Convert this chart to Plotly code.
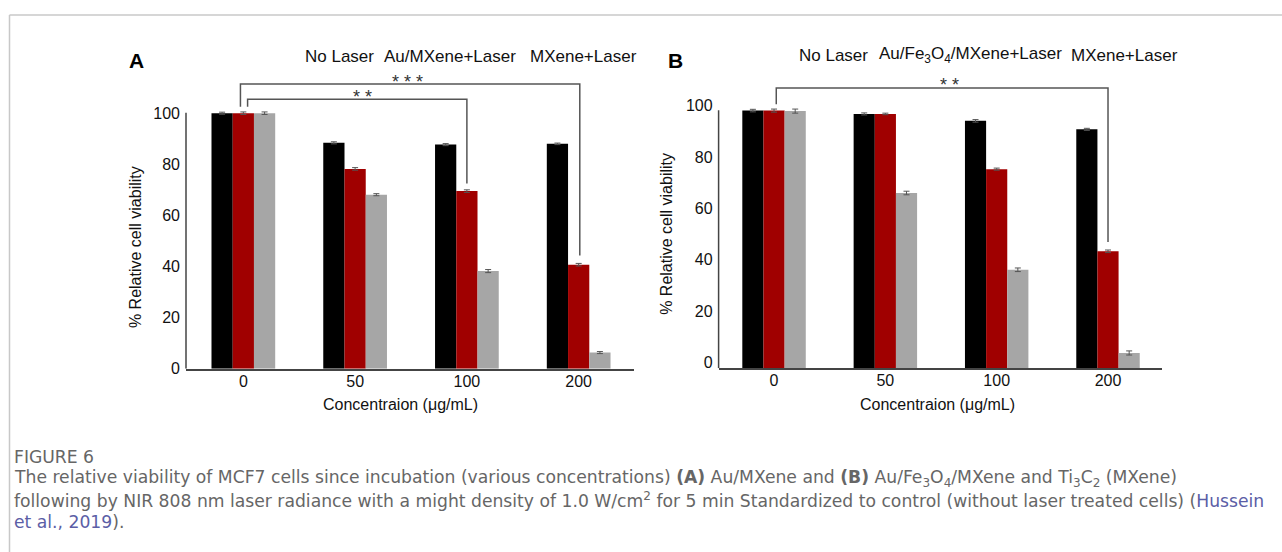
import plotly.graph_objects as go

W, H = 1282, 552          # reference picture size (positions below are given in its pixels)
FIG_H = 562               # drawn height: the photograph is squeezed from this to 552

# ---------------- data ----------------
concentrations = ["0", "50", "100", "200"]
series_names = ["No Laser", "Au/MXene+Laser", "MXene+Laser"]
series_names_b = ["No Laser", "Au/Fe<sub>3</sub>O<sub>4</sub>/MXene+Laser", "MXene+Laser"]

a_no_laser = [100.0, 88.4, 87.7, 88.0]
a_au_mxene = [100.0, 78.2, 69.5, 40.7]
a_mxene = [100.0, 68.1, 38.2, 6.3]
a_err_no_laser = [0.4, 0.4, 0.4, 0.3]
a_err_au_mxene = [0.5, 0.5, 0.5, 0.5]
a_err_mxene = [0.5, 0.4, 0.6, 0.4]

b_no_laser = [100.4, 99.1, 96.4, 93.1]
b_au_fe_mxene = [100.4, 99.1, 77.6, 45.6]
b_mxene = [100.2, 68.3, 38.4, 6.0]
b_err_no_laser = [0.5, 0.4, 0.5, 0.4]
b_err_au_fe_mxene = [0.6, 0.3, 0.4, 0.5]
b_err_mxene = [0.8, 0.7, 0.7, 0.8]

y_ticks = [0, 20, 40, 60, 80, 100]
colors = ["#000000", "#a00000", "#a6a6a6"]

def px(x):
    return x / W

def py(y):
    return 1 - y / H

fig = go.Figure()

for vals, errs, col, name in zip([a_no_laser, a_au_mxene, a_mxene],
                                 [a_err_no_laser, a_err_au_mxene, a_err_mxene],
                                 colors, series_names):
    fig.add_trace(go.Bar(x=concentrations, y=vals, name=name, marker=dict(color=col, line=dict(width=0)),
                         error_y=dict(type="data", array=errs, color="#555555", thickness=1, width=3),
                         xaxis="x", yaxis="y", showlegend=False))

for vals, errs, col, name in zip([b_no_laser, b_au_fe_mxene, b_mxene],
                                 [b_err_no_laser, b_err_au_fe_mxene, b_err_mxene],
                                 colors, series_names_b):
    fig.add_trace(go.Bar(x=concentrations, y=vals, name=name, marker=dict(color=col, line=dict(width=0)),
                         error_y=dict(type="data", array=errs, color="#555555", thickness=1, width=3),
                         xaxis="x2", yaxis="y2", showlegend=False))

axis_font = dict(family="Liberation Sans, Arial, sans-serif", size=16, color="#111111")

xcommon = dict(type="category", showgrid=False, zeroline=False, showline=True,
               linecolor="#444444", linewidth=1.5, ticks="", ticklen=0, ticklabelstandoff=-3,
               tickfont=axis_font, fixedrange=True)
ycommon = dict(range=[0, 118], showgrid=False, zeroline=False, showline=False,
               tickvals=y_ticks, ticks="", ticklen=0, ticklabelstandoff=5, tickfont=axis_font)

fig.update_layout(
    width=W, height=FIG_H,
    margin=dict(l=0, r=0, t=0, b=0),
    paper_bgcolor="white", plot_bgcolor="white",
    barmode="group", bargap=0.43, bargroupgap=0,
    xaxis=dict(**xcommon, domain=[px(186), px(634)], range=[-0.513, 3.495], anchor="y"),
    yaxis=dict(**ycommon, domain=[py(368), py(67.1)], anchor="x"),
    xaxis2=dict(**xcommon, domain=[px(718.6), px(1162)], range=[-0.498, 3.485], anchor="y2"),
    yaxis2=dict(**ycommon, domain=[py(367.7), py(65.3)], anchor="x2", ticklabelshift=-6),
)

line_col = "#444444"
shapes = [
    dict(type="line", xref="x domain", yref="y", x0=0, x1=0, y0=0, y1=100.2, line=dict(color=line_col, width=1.5)),
    dict(type="line", xref="x2 domain", yref="y2", x0=0, x1=0, y0=0, y1=100.5, line=dict(color=line_col, width=1.5)),
    dict(type="line", xref="paper", yref="paper", x0=px(9.5), x1=1, y0=py(15), y1=py(15), line=dict(color="#c8c8c8", width=1.5)),
    dict(type="line", xref="paper", yref="paper", x0=px(9.5), x1=px(9.5), y0=py(15), y1=0, line=dict(color="#c8c8c8", width=1.5)),
]

def bracket(xref, yref, x0, x1, ytop, yl, yr):
    return dict(type="path", xref=xref, yref=yref,
                path=f"M {x0},{yl} L {x0},{ytop} L {x1},{ytop} L {x1},{yr}",
                line=dict(color="#555555", width=1.5))

shapes.append(bracket("x", "y", -0.026, 3.01, 111.4, 102.5, 44.3))
shapes.append(bracket("x", "y", 0.038, 2.0, 105.5, 102.5, 72.5))
shapes.append(bracket("x2", "y2", 0.02, 3.0, 109.2, 102.9, 49.2))
fig.update_layout(shapes=shapes)

anns = []

def ann(**kw):
    kw.setdefault("showarrow", False)
    kw.setdefault("xanchor", "center")
    kw.setdefault("yanchor", "middle")
    anns.append(kw)

star_font = dict(family="Liberation Sans, Arial, sans-serif", size=18, color="#333333")
ann(xref="x", yref="y", x=1.47, y=112.3, text="* * *", font=star_font)
ann(xref="x", yref="y", x=1.07, y=106.4, text="* *", font=star_font)
ann(xref="x2", yref="y2", x=1.58, y=110.2, text="* *", font=star_font)

letter_font = dict(family="Liberation Sans, Arial, sans-serif", size=21, color="#000000")
ann(xref="paper", yref="paper", x=px(136), y=py(60), text="<b>A</b>", font=letter_font)
ann(xref="paper", yref="paper", x=px(676), y=py(60), text="<b>B</b>", font=letter_font)

leg_font = dict(family="Liberation Sans, Arial, sans-serif", size=17, color="#111111")
for xpos, t in zip([303, 382, 528], series_names):
    ann(xref="paper", yref="paper", x=px(xpos), y=py(56), xanchor="left", text=t, font=leg_font)
for xpos, t in zip([797, 877, 1069], series_names_b):
    ann(xref="paper", yref="paper", x=px(xpos), y=py(55), xanchor="left", text=t, font=leg_font)

ann(xref="x", yref="paper", x=1.41, y=py(404), text="Concentraion (μg/mL)", font=axis_font)
ann(xref="x2", yref="paper", x=1.47, y=py(404), text="Concentraion (μg/mL)", font=axis_font)
ann(xref="paper", yref="y", x=px(135), y=47.6, text="% Relative cell viability", textangle=-90, font=axis_font)
ann(xref="paper", yref="y2", x=px(667), y=52.4, text="% Relative cell viability", textangle=-90, font=axis_font)

cap_font = dict(family="DejaVu Sans, Noto Sans, sans-serif", size=17.2, color="#666666")
link = "#5b5ea6"
cap_lines = [
    "FIGURE 6",
    "The relative viability of MCF7 cells since incubation (various concentrations) <b>(A)</b> Au/MXene and <b>(B)</b> Au/Fe<sub>3</sub>O<sub>4</sub>/MXene and Ti<sub>3</sub>C<sub>2</sub> (MXene)",
    f"following by NIR 808 nm laser radiance with a might density of 1.0 W/cm<sup>2</sup> for 5 min Standardized to control (without laser treated cells) (<span style='color:{link}'>Hussein</span>",
    f"<span style='color:{link}'>et al., 2019</span>).",
]
for t, yy in zip(cap_lines, [456, 478, 499.5, 521]):
    ann(xref="paper", yref="paper", x=px(12), y=py(yy), xanchor="left", text=t, font=cap_font)

fig.update_layout(annotations=anns)

post_js = (
    "var s=document.createElement('style');"
    "s.innerHTML='html,body{margin:0!important;padding:0!important;overflow:hidden!important;}';"
    "document.head.appendChild(s);"
)
fig.write_html("out.html", config={"displayModeBar": False}, post_script=post_js)
